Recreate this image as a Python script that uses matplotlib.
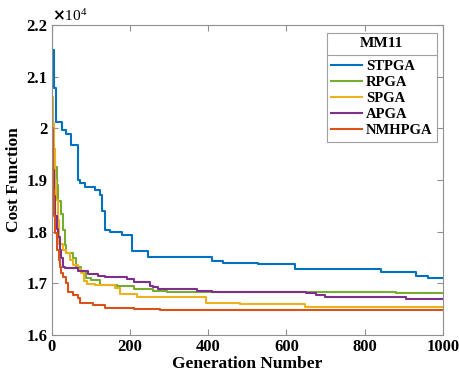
#!/usr/bin/env python3

import matplotlib
matplotlib.use("Agg")
import matplotlib.pyplot as plt
from matplotlib.lines import Line2D

# cost values in units of 1e4
stpga_gen = [0, 1, 6, 11, 26, 38, 49, 67, 73, 86, 111, 124, 130, 136, 149, 179, 205, 247,
             411, 437, 528, 622, 841, 932, 961, 1000]
stpga_val = [2.19, 2.152, 2.078, 2.012, 1.997, 1.989, 1.968, 1.90, 1.894, 1.887, 1.881, 1.871,
             1.84, 1.803, 1.80, 1.794, 1.763, 1.751, 1.744, 1.739, 1.737, 1.728, 1.721, 1.714,
             1.710, 1.710]

rpga_gen = [0, 3, 8, 13, 17, 25, 30, 35, 38, 55, 63, 76, 89, 102, 124, 166, 210, 260, 295,
            880, 1000]
rpga_val = [2.03, 1.96, 1.925, 1.89, 1.86, 1.835, 1.803, 1.775, 1.758, 1.749, 1.732, 1.723,
            1.71, 1.706, 1.697, 1.694, 1.689, 1.686, 1.684, 1.682, 1.682]

spga_gen = [0, 2, 4, 6, 9, 12, 17, 19, 30, 38, 47, 55, 68, 76, 82, 90, 111, 162, 175, 218,
            243, 395, 481, 648, 1000]
spga_val = [2.10, 2.06, 2.01, 1.96, 1.90, 1.861, 1.823, 1.777, 1.765, 1.758, 1.745, 1.735,
            1.728, 1.72, 1.705, 1.699, 1.696, 1.690, 1.680, 1.674, 1.673, 1.661, 1.660, 1.655,
            1.655]

apga_gen = [0, 2, 4, 7, 10, 14, 17, 21, 25, 30, 34, 68, 93, 119, 136, 192, 210, 252, 259, 273,
            371, 409, 626, 650, 675, 698, 906, 1000]
apga_val = [2.02, 1.97, 1.92, 1.87, 1.83, 1.805, 1.79, 1.765, 1.748, 1.732, 1.729, 1.723,
            1.718, 1.715, 1.712, 1.708, 1.703, 1.694, 1.692, 1.688, 1.686, 1.684, 1.683, 1.681,
            1.678, 1.673, 1.670, 1.669]

nmh_gen = [0, 1, 3, 5, 7, 10, 14, 18, 21, 25, 30, 38, 42, 55, 68, 73, 107, 136, 210, 276, 1000]
nmh_val = [2.055, 2.0, 1.94, 1.88, 1.83, 1.797, 1.765, 1.745, 1.732, 1.72, 1.713, 1.70, 1.684,
           1.677, 1.671, 1.661, 1.658, 1.653, 1.650, 1.648, 1.648]

x_ticks = [0, 200, 400, 600, 800, 1000]
y_ticks = [1.6, 1.7, 1.8, 1.9, 2.0, 2.1, 2.2]

series = [
    ("STPGA", stpga_gen, stpga_val, "#0072BD"),
    ("RPGA", rpga_gen, rpga_val, "#77AC30"),
    ("SPGA", spga_gen, spga_val, "#EDB120"),
    ("APGA", apga_gen, apga_val, "#7E2F8E"),
    ("NMHPGA", nmh_gen, nmh_val, "#D95319"),
]

plt.rcParams["font.family"] = ["Liberation Serif", "DejaVu Serif"]
plt.rcParams["font.weight"] = "bold"

fig = plt.figure(figsize=(4.6, 3.81), dpi=100)
ax = fig.add_axes([0.112, 0.121, 0.851, 0.813])

for name, gen, val, color in series:
    ax.plot(gen, val, drawstyle="steps-post", color=color, linewidth=1.5, label=name)

ax.set_xlim(0, 1000)
ax.set_ylim(1.6, 2.2)
ax.set_xticks(x_ticks)
ax.set_yticks(y_ticks)
ax.set_xticklabels([str(t) for t in x_ticks], fontsize=12, fontweight="bold")
ax.set_yticklabels([f"{t:g}" for t in y_ticks], fontsize=12, fontweight="bold")
ax.tick_params(direction="in", length=4, color="#909090", top=True, right=True, pad=3)
for spine in ax.spines.values():
    spine.set_color("#909090")
    spine.set_linewidth(0.8)

ax.set_xlabel("Generation Number", fontsize=12.5, fontweight="bold", labelpad=1)
ax.set_ylabel("Cost Function", fontsize=12.5, fontweight="bold", labelpad=3)
ax.text(0.0, 1.003, r"$\times\mathregular{10^4}$", transform=ax.transAxes, fontsize=11,
        fontweight="normal", ha="left", va="bottom")

leg = ax.legend(loc="upper right", bbox_to_anchor=(0.984, 0.976), title="MM11",
                fontsize=10.5, title_fontproperties={"weight": "bold", "size": 11},
                fancybox=False, framealpha=1, edgecolor="#a0a0a0", borderaxespad=0,
                handlelength=2.1, handletextpad=0.25, labelspacing=0.2, borderpad=0.3)
leg.get_frame().set_linewidth(0.8)
# a bit more room between the title and the entries, for the rule line
leg._legend_box.sep = 7

fig.canvas.draw()
inv = ax.transAxes.inverted()
bb = leg.get_window_extent().transformed(inv)
tb = leg.get_title().get_window_extent().transformed(inv)
first = leg.get_texts()[0].get_window_extent().transformed(inv)
sep_y = 0.5 * (tb.y0 + first.y1)
ax.add_line(Line2D([bb.x0, bb.x1], [sep_y, sep_y], transform=ax.transAxes,
                   color="#a0a0a0", linewidth=0.8, clip_on=False, zorder=10))

fig.savefig("out.png", dpi=100)
